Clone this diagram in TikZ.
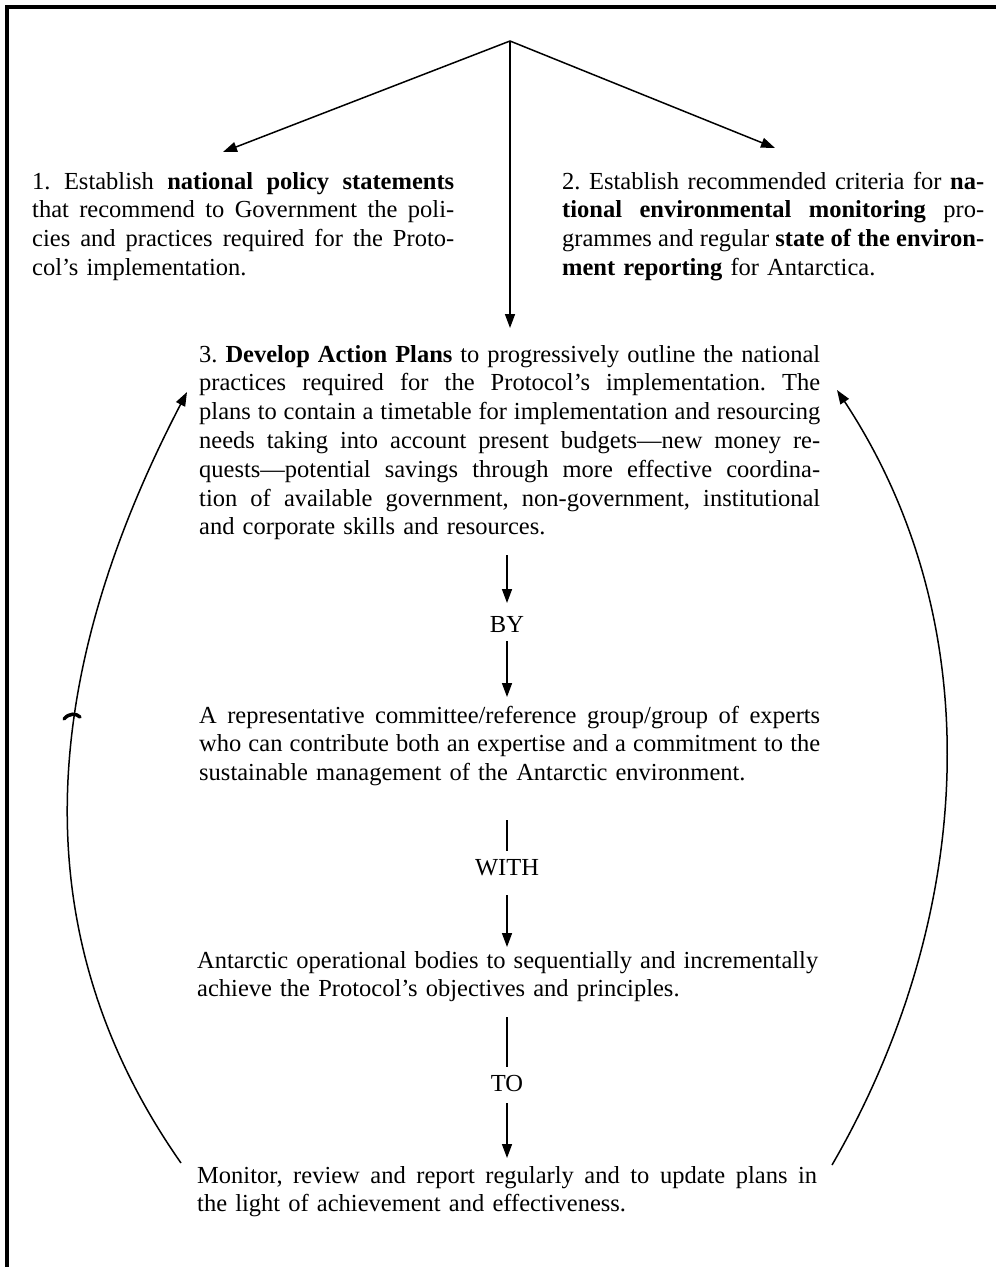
\documentclass[tikz,border=0pt]{standalone}
\usepackage{fontspec}
\setmainfont{Liberation Serif}
\usetikzlibrary{arrows.meta}
\frenchspacing
\newcommand{\jl}[2][621pt]{\hbox to #1{\spaceskip=\fontdimen2\font plus 1fil minus .35\fontdimen2\font\relax #2}\par}
\newcommand{\jlast}[1]{\hbox{#1}\par}
\begin{document}
\begin{tikzpicture}[x=1pt,y=-1pt,
  txt/.style={inner sep=0pt, anchor=base west, font=\fontsize{24.5pt}{28.8pt}\selectfont\frenchspacing},
  lbl/.style={inner sep=0pt, anchor=base, font=\fontsize{24.5pt}{28.8pt}\selectfont},
  arr/.style={line width=1.5pt, -{Triangle[length=14pt,width=10pt]}},
  ln/.style={line width=1.5pt},
  frameline/.style={line width=4pt}]
\useasboundingbox (0,0) rectangle (996,1267);
\fill[white] (0,0) rectangle (996,1267);
% frame
\draw[frameline] (7,1267) -- (7,7) -- (996,7);

% text blocks
\node[txt, text width=422pt] (b1) at (32,189) {%
\jl[422pt]{1. Establish \textbf{national policy statements}}%
\jl[422pt]{that recommend to Government the poli-}%
\jl[422pt]{cies and practices required for the Proto-}%
\jlast{col's implementation.}};

\node[txt, text width=422pt] (b2) at (562,189) {%
\jl[422pt]{2. Establish recommended criteria for \textbf{na-}}%
\jl[422pt]{\textbf{tional environmental monitoring} pro-}%
\jl[422pt]{grammes and regular \textbf{state of the environ-}}%
\jlast{\textbf{ment reporting} for Antarctica.}};

\node[txt, text width=621pt] (b3) at (199,362) {%
\jl{3. \textbf{Develop Action Plans} to progressively outline the national}%
\jl{practices required for the Protocol's implementation. The}%
\jl{plans to contain a timetable for implementation and resourcing}%
\jl{needs taking into account present budgets---new money re-}%
\jl{quests---potential savings through more effective coordina-}%
\jl{tion of available government, non-government, institutional}%
\jlast{and corporate skills and resources.}};

\node[lbl] (by) at (507,632) {BY};

\node[txt, text width=621pt] (b4) at (199,723) {%
\jl{A representative committee/reference group/group of experts}%
\jl{who can contribute both an expertise and a commitment to the}%
\jlast{sustainable management of the Antarctic environment.}};

\node[lbl] (with) at (507,875) {WITH};

\node[txt, text width=621pt] (b5) at (197,968) {%
\jl{Antarctic operational bodies to sequentially and incrementally}%
\jlast{achieve the Protocol's objectives and principles.}};

\node[lbl] (to) at (507,1091) {TO};

\node[txt, text width=620pt] (b6) at (197,1183) {%
\jl[620pt]{Monitor, review and report regularly and to update plans in}%
\jlast{the light of achievement and effectiveness.}};

% top fan of arrows
\coordinate (apex) at (510,41);
\coordinate (t1) at (223,152);
\coordinate (t2) at (775,148);
\coordinate (t3) at (510,328);
\draw[arr] (apex) -- (t1);
\draw[arr] (apex) -- (t2);
\draw[arr] (apex) -- (t3);

% central chain
\coordinate (c1) at (507,555);
\coordinate (c2) at (507,603);
\coordinate (c3) at (507,641);
\coordinate (c4) at (507,697);
\coordinate (c5) at (507,820);
\coordinate (c6) at (507,851);
\coordinate (c7) at (507,895);
\coordinate (c8) at (507,947);
\coordinate (c9) at (507,1017);
\coordinate (c10) at (507,1067);
\coordinate (c11) at (507,1103);
\coordinate (c12) at (507,1158);
\draw[arr] (c1) -- (c2);
\draw[arr] (c3) -- (c4);
\draw[ln] (c5) -- (c6);
\draw[arr] (c7) -- (c8);
\draw[ln] (c9) -- (c10);
\draw[arr] (c11) -- (c12);

% feedback curves
\coordinate (lb) at (181,1163);
\coordinate (lt) at (187,392);
\coordinate (rb) at (832,1165);
\coordinate (rt) at (837,390);
\draw[arr] (lb) .. controls (13,923) and (46.6,662) .. (lt);
\draw[arr] (rb) .. controls (971,925) and (995,630) .. (rt);
% small mark on left curve
\draw[line width=3.5pt, line cap=round] (64,719) .. controls (69,713) and (76,713) .. (80,717);
\end{tikzpicture}
\end{document}
